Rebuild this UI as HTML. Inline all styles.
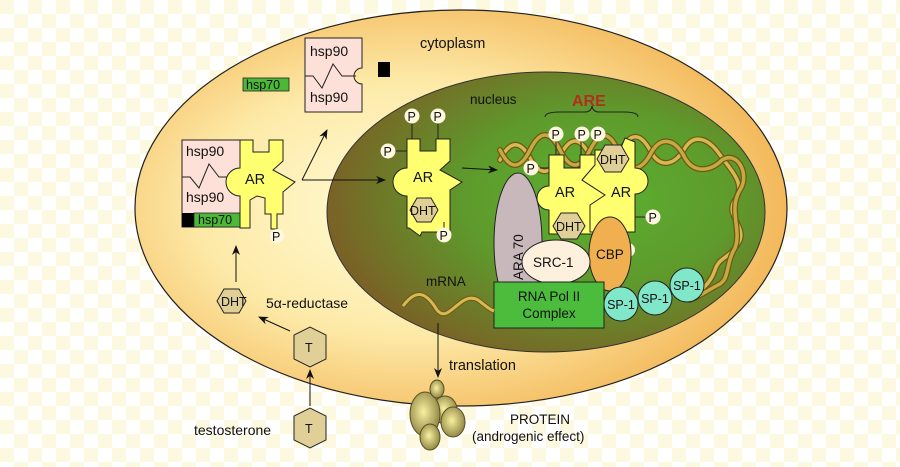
<!DOCTYPE html>
<html><head><meta charset="utf-8"><style>
html,body{margin:0;padding:0;background:#fff}
svg{display:block}
text{font-family:"Liberation Sans",sans-serif;fill:#111}
</style></head><body>
<svg width="900" height="467" viewBox="0 0 900 467" xmlns="http://www.w3.org/2000/svg">
<defs>
<pattern id="chk" width="28" height="28" patternUnits="userSpaceOnUse">
<rect width="28" height="28" fill="#ffffff"/>
<rect width="14" height="14" fill="#fdf9e0"/>
<rect x="14" y="14" width="14" height="14" fill="#fdf9e0"/>
</pattern>
<radialGradient id="cyt" cx="0.42" cy="0.5" r="0.58">
<stop offset="0" stop-color="#fffcd8"/>
<stop offset="0.55" stop-color="#fdeaa8"/>
<stop offset="1" stop-color="#f3b85a"/>
</radialGradient>
<radialGradient id="nuc" cx="0.62" cy="0.45" r="0.62">
<stop offset="0" stop-color="#5cb030"/>
<stop offset="0.5" stop-color="#5e9a2c"/>
<stop offset="1" stop-color="#7a6226"/>
</radialGradient>
<radialGradient id="blob" cx="0.45" cy="0.45" r="0.6">
<stop offset="0" stop-color="#f8f0a0"/>
<stop offset="1" stop-color="#8a8040"/>
</radialGradient>
<marker id="ah" markerWidth="10" markerHeight="8" refX="9" refY="4" orient="auto" markerUnits="userSpaceOnUse">
<path d="M0,0 L10,4 L0,8 L3,4 Z" fill="#111"/>
</marker>
</defs>
<rect width="900" height="467" fill="url(#chk)"/>
<ellipse cx="461" cy="208" rx="326" ry="198" fill="url(#cyt)" stroke="#222" stroke-width="1.2"/>
<ellipse cx="546" cy="212" rx="219" ry="140" fill="url(#nuc)" stroke="#333" stroke-width="1"/>

<text x="420" y="48" font-size="14.5">cytoplasm</text>
<text x="470" y="104" font-size="13.5">nucleus</text>

<!-- hsp90 top -->
<path d="M305,38 L362,38 L362,68 A8,8 0 0 0 362,84 L362,112 L305,112 Z" fill="#fde0d8" stroke="#222"/>
<path d="M305,76 L313,76 L322,88 L333,64 L342,76 L356,76" fill="none" stroke="#222"/>
<text x="310" y="56" font-size="14">hsp90</text>
<text x="310" y="102" font-size="14">hsp90</text>
<rect x="378" y="62" width="12" height="15" fill="#000"/>
<rect x="243" y="78" width="46" height="13" fill="#4cb838" stroke="#222" stroke-width="0.8"/>
<text x="246" y="89" font-size="12.5">hsp70</text>

<!-- left complex -->
<rect x="182" y="140" width="58" height="87" fill="#fde0d8" stroke="#222"/>
<path d="M182,177 L190,177 L199,188 L209,164 L219,177 L234,177" fill="none" stroke="#222"/>
<text x="186" y="156" font-size="14">hsp90</text>
<text x="186" y="202" font-size="14">hsp90</text>
<rect x="182" y="213" width="12" height="14" fill="#000"/>
<rect x="194" y="213" width="46" height="14" fill="#4cb838" stroke="#222" stroke-width="0.8"/>
<text x="198" y="224" font-size="12.5">hsp70</text>
<path d="M240,140 L253,140 L253,152 L269,152 L269,140 L283,140 L283,161 L273,170 L295,182 L283,192 L283,214 L277,214 L277,229 L271,229 L271,214 L265,214 L265,198 L257,196 L250,200 L250,228 L240,228 L240,196 A14,14 0 0 1 240,168 Z" fill="#ffff70" stroke="#222"/>
<text x="245" y="184" font-size="14.5">AR</text>
<line x1="277" y1="229" x2="277" y2="233" stroke="#222"/>
<circle cx="277" cy="236" r="7" fill="#fff8e0"/><text x="272" y="241" font-size="12.5">P</text>

<path d="M302,180 L327,130" fill="none" stroke="#111" marker-end="url(#ah)"/>
<path d="M302,180 L385,180" fill="none" stroke="#111" marker-end="url(#ah)"/>

<!-- nucleus AR -->
<path d="M407,139 L420,139 L420,151 L436,151 L436,139 L450,139 L450,161 L440,170 L462,182 L450,190 L450,232 L422,232 L420,236 L409,228 L407,228 L407,196 A14,14 0 0 1 407,168 Z" fill="#ffff70" stroke="#222"/>
<text x="413" y="182" font-size="14.5">AR</text>
<polygon points="410,210 417,198 431,198 438,210 431,222 417,222" fill="#e0d098" stroke="#222"/>
<text x="410" y="215" font-size="12.5">DHT</text>
<line x1="412" y1="139" x2="412" y2="122" stroke="#222"/><line x1="438" y1="139" x2="438" y2="122" stroke="#222"/>
<line x1="407" y1="151" x2="395" y2="151" stroke="#222"/><line x1="444" y1="222" x2="444" y2="230" stroke="#222"/>
<g font-size="12.5">
<circle cx="412" cy="116" r="7.5" fill="#fff8e0"/><text x="407.5" y="121">P</text>
<circle cx="438" cy="116" r="7.5" fill="#fff8e0"/><text x="433.5" y="121">P</text>
<circle cx="388" cy="151" r="7.5" fill="#fff8e0"/><text x="383.5" y="156">P</text>
<circle cx="444" cy="235" r="7.5" fill="#fff8e0"/><text x="439.5" y="240">P</text>
</g>
<path d="M462,168 L497,170" fill="none" stroke="#111" marker-end="url(#ah)"/>

<!-- ARE -->
<text x="572" y="106" font-size="16" font-weight="bold" style="fill:#b03020">ARE</text>
<path d="M545,117 Q545,112 560,112 L585,112 Q591,112 592,106 Q593,112 599,112 L624,112 Q638,112 638,117" fill="none" stroke="#222"/>

<!-- DNA helix -->
<g fill="none" stroke-linecap="round">
<path d="M500,160 C510,140 520,140 530,158 C540,176 550,176 560,156 C570,136 580,136 590,156 C600,176 610,176 620,152 C630,132 640,132 650,150 C660,170 675,165 685,148 C695,132 710,140 720,155 C735,175 745,185 735,200 C725,215 745,225 740,240 C730,260 720,255 715,270 C710,285 700,290 690,300" stroke="#6a5a18" stroke-width="6"/>
<path d="M500,160 C510,140 520,140 530,158 C540,176 550,176 560,156 C570,136 580,136 590,156 C600,176 610,176 620,152 C630,132 640,132 650,150 C660,170 675,165 685,148 C695,132 710,140 720,155 C735,175 745,185 735,200 C725,215 745,225 740,240 C730,260 720,255 715,270 C710,285 700,290 690,300" stroke="#d8b850" stroke-width="3.5"/>
<path d="M500,150 C510,170 520,170 530,150 C540,130 550,130 560,150 C570,170 580,170 590,150 C600,130 610,130 620,155 C630,172 640,172 650,155 C660,135 675,138 685,158 C695,175 712,170 722,160 C738,150 750,175 740,190 C728,210 742,230 735,248 C725,265 730,280 718,285 C705,292 700,296 690,300" stroke="#6a5a18" stroke-width="6"/>
<path d="M500,150 C510,170 520,170 530,150 C540,130 550,130 560,150 C570,170 580,170 590,150 C600,130 610,130 620,155 C630,172 640,172 650,155 C660,135 675,138 685,158 C695,175 712,170 722,160 C738,150 750,175 740,190 C728,210 742,230 735,248 C725,265 730,280 718,285 C705,292 700,296 690,300" stroke="#c8a840" stroke-width="3.5"/>
</g>

<!-- AR dimer -->
<path d="M549,155 L564,155 L564,168 L580,168 L580,155 L595,155 L595,165 L582,180 L605,195 L595,205 L595,234 L549,234 L549,210 A12,12 0 0 1 549,186 L549,180 Z" fill="#ffff70" stroke="#222"/>
<path d="M595,150 L620,150 L625,138 L635,142 L635,168 A13,13 0 0 1 635,194 L635,232 L590,232 L590,205 L605,195 L582,180 L595,165 Z" fill="#ffff70" stroke="#222"/>
<text x="555" y="197" font-size="14.5">AR</text>
<text x="611" y="197" font-size="14.5">AR</text>
<polygon points="597,159 605,145 621,145 629,159 621,172 605,172" fill="#e0d098" stroke="#222"/>
<text x="600" y="164" font-size="12.5">DHT</text>
<polygon points="553,226 561,213 577,213 585,226 577,239 561,239" fill="#e0d098" stroke="#222"/>
<text x="556" y="231" font-size="12.5">DHT</text>
<line x1="556" y1="155" x2="556" y2="140" stroke="#222"/><line x1="581" y1="155" x2="581" y2="140" stroke="#222"/>
<line x1="549" y1="168" x2="540" y2="168" stroke="#222"/><line x1="635" y1="217" x2="648" y2="217" stroke="#222"/>
<g font-size="12.5">
<circle cx="556" cy="134" r="7.5" fill="#fff8e0"/><text x="551.5" y="139">P</text>
<circle cx="582" cy="134" r="7.5" fill="#fff8e0"/><text x="577.5" y="139">P</text>
<circle cx="598" cy="134" r="7.5" fill="#fff8e0"/><text x="593.5" y="139">P</text>
<circle cx="531" cy="168" r="7.5" fill="#fff8e0"/><text x="526.5" y="173">P</text>
<circle cx="653" cy="217" r="7.5" fill="#fff8e0"/><text x="648.5" y="222">P</text>
<circle cx="628" cy="250" r="7" fill="#fff8e0"/>
</g>

<ellipse cx="518" cy="243" rx="24" ry="70" fill="#c8b8bc" stroke="#222"/>
<text x="0" y="0" font-size="13.5" transform="translate(523,280) rotate(-90)">ARA 70</text>
<ellipse cx="610" cy="254" rx="21" ry="37" fill="#f0b050" stroke="#222"/>
<text x="596" y="259" font-size="13.5">CBP</text>
<ellipse cx="556" cy="262" rx="34" ry="22" fill="#fdf0dc" stroke="#222"/>
<text x="533" y="267" font-size="13.5">SRC-1</text>
<rect x="494" y="282" width="110" height="46" fill="#4cbc3c" stroke="#222"/>
<text x="549" y="301" font-size="13.5" text-anchor="middle">RNA Pol II</text>
<text x="549" y="318" font-size="13.5" text-anchor="middle">Complex</text>
<g font-size="12.5">
<circle cx="621" cy="304" r="17" fill="#80e8c8" stroke="#222"/><text x="621" y="309" text-anchor="middle">SP-1</text>
<circle cx="655" cy="298" r="17" fill="#80e8c8" stroke="#222"/><text x="655" y="303" text-anchor="middle">SP-1</text>
<circle cx="687" cy="285" r="17" fill="#80e8c8" stroke="#222"/><text x="687" y="290" text-anchor="middle">SP-1</text>
</g>

<text x="426" y="286" font-size="13.5">mRNA</text>
<path d="M403,306 C415,290 425,290 437,310 C449,325 460,290 478,300 C486,306 490,310 494,311" fill="none" stroke="#6a5a18" stroke-width="5"/>
<path d="M403,306 C415,290 425,290 437,310 C449,325 460,290 478,300 C486,306 490,310 494,311" fill="none" stroke="#d8b850" stroke-width="3"/>
<path d="M438,323 L438,377" fill="none" stroke="#111" marker-end="url(#ah)"/>
<text x="449" y="370" font-size="14.5">translation</text>

<ellipse cx="445" cy="410" rx="12" ry="14" fill="url(#blob)" stroke="#5a5020"/>
<ellipse cx="425" cy="414" rx="15" ry="22" fill="url(#blob)" stroke="#5a5020"/>
<ellipse cx="453" cy="422" rx="12" ry="15" fill="url(#blob)" stroke="#5a5020"/>
<ellipse cx="437" cy="389" rx="7" ry="9" fill="url(#blob)" stroke="#5a5020"/>
<ellipse cx="430" cy="437" rx="10" ry="13" fill="url(#blob)" stroke="#5a5020"/>
<text x="510" y="424" font-size="13.5">PROTEIN</text>
<text x="472" y="441" font-size="13.5">(androgenic effect)</text>

<polygon points="217,301 224,289 239,289 246,301 239,313 224,313" fill="#e0d098" stroke="#222"/>
<text x="221" y="306" font-size="12.5">DHT</text>
<path d="M236,282 L236,246" fill="none" stroke="#111" marker-end="url(#ah)"/>
<text x="266" y="308" font-size="14">5α-reductase</text>
<polygon points="294,347 294,335 310,327 326,335 326,359 310,367 294,359" fill="#e0d098" stroke="#222"/>
<text x="305" y="352" font-size="12.5">T</text>
<path d="M290,331 L259,317" fill="none" stroke="#111" marker-end="url(#ah)"/>
<path d="M310,406 L310,370" fill="none" stroke="#111" marker-end="url(#ah)"/>
<polygon points="294,428 294,416 310,408 326,416 326,440 310,448 294,440" fill="#e0d098" stroke="#222"/>
<text x="305" y="433" font-size="12.5">T</text>
<text x="194" y="435" font-size="14">testosterone</text>
</svg>
</body></html>
